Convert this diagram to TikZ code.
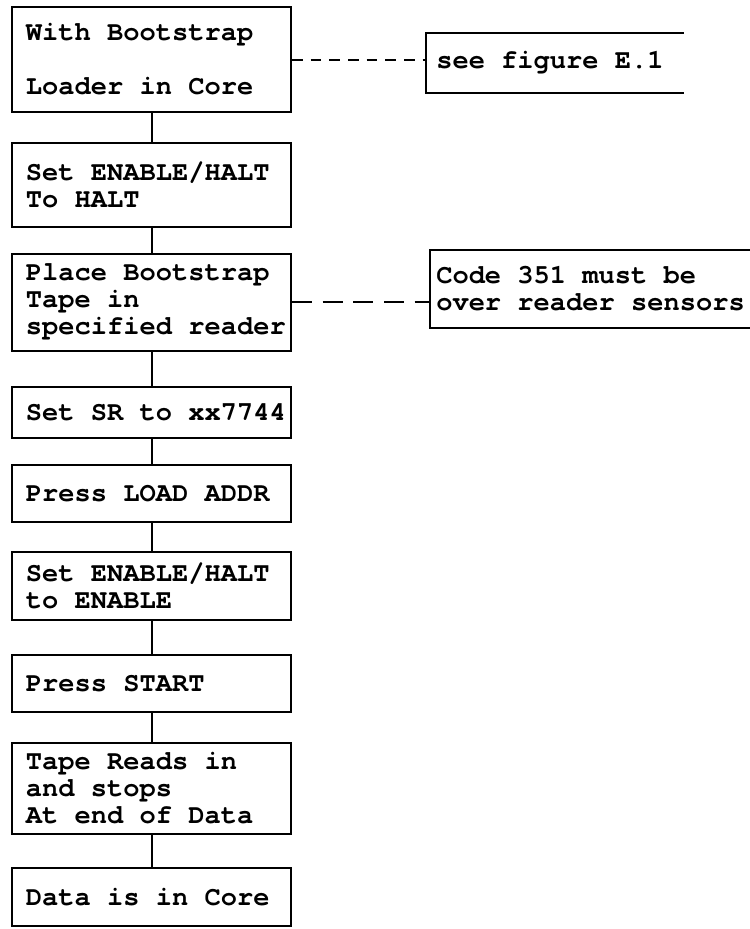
\documentclass[tikz,border=0pt]{standalone}
\usepackage{fontspec}
\setmonofont{texgyrecursor}[Extension=.otf, UprightFont=*-regular, BoldFont=*-bold, Ligatures=NoCommon]
\newcommand\lnind{\hspace*{9pt}}
\begin{document}
\begin{tikzpicture}[x=0.75pt,y=-0.75pt,
  every node/.style={font=\ttfamily\bfseries\fontsize{20.3}{20.25}\selectfont,
    execute at begin node={\spaceskip=12.18pt\relax\xspaceskip=12.18pt\relax}},
  stepbox/.style={draw, line width=1.5pt, rectangle, minimum width={279*0.75pt},
    text width={275*0.75pt}, inner xsep=1.5pt, inner ysep=0pt, align=left},
  link/.style={line width=1.5pt},
  note/.style={rectangle, inner ysep=0pt, align=left, anchor=west},
  shortdash/.style={link, dash pattern=on 8pt off 6pt},
  longdash/.style={link, dash pattern=on 15pt off 8pt}
]
\fill[white] (0,0) rectangle (750,929);
\useasboundingbox (0,0) rectangle (750,929);

\node[stepbox, minimum height={105*0.75pt}] (b1) at (151.5,59.5) {\lnind With~Bootstrap\\[20.25pt]\lnind Loader~in~Core};
\node[stepbox, minimum height={84*0.75pt}] (b2) at (151.5,185) {\lnind Set~ENABLE/HALT\\\lnind To~HALT};
\node[stepbox, minimum height={97*0.75pt}] (b3) at (151.5,302) {\lnind Place~Bootstrap\\\lnind Tape~in\\\lnind specified~reader};
\node[stepbox, minimum height={51*0.75pt}] (b4) at (151.5,412.5) {\lnind Set~SR~to~xx7744};
\node[stepbox, minimum height={57*0.75pt}] (b5) at (151.5,493.5) {\lnind Press~LOAD~ADDR};
\node[stepbox, minimum height={68*0.75pt}] (b6) at (151.5,586) {\lnind Set~ENABLE/HALT\\\lnind to~ENABLE};
\node[stepbox, minimum height={57*0.75pt}] (b7) at (151.5,683.5) {\lnind Press~START};
\node[stepbox, minimum height={91*0.75pt}] (b8) at (151.5,788.5) {\lnind Tape~Reads~in\\\lnind and~stops\\\lnind At~end~of~Data};
\node[stepbox, minimum height={58*0.75pt}] (b9) at (151.5,897) {\lnind Data~is~in~Core};

\draw[link] (b1.south) -- (b2.north);
\draw[link] (b2.south) -- (b3.north);
\draw[link] (b3.south) -- (b4.north);
\draw[link] (b4.south) -- (b5.north);
\draw[link] (b5.south) -- (b6.north);
\draw[link] (b6.south) -- (b7.north);
\draw[link] (b7.south) -- (b8.north);
\draw[link] (b8.south) -- (b9.north);

\node[note, minimum height={60*0.75pt}, text width={237*0.75pt}, inner xsep=7.5pt] (nA) at (426,63) {see~figure~E.1};
\draw[link] (nA.north east) -- (nA.north west) -- (nA.south west) -- (nA.south east);

\node[note, minimum height={78*0.75pt}, text width={314*0.75pt}, inner xsep=4.5pt] (nB) at (430,289) {Code~351~must~be\\over~reader~sensors};
\draw[link] (nB.north east) -- (nB.north west) -- (nB.south west) -- (nB.south east);

\draw[shortdash] (b1.east) -- (b1.east -| nA.west);
\draw[longdash] (b3.east) -- (b3.east -| nB.west);
\end{tikzpicture}
\end{document}
